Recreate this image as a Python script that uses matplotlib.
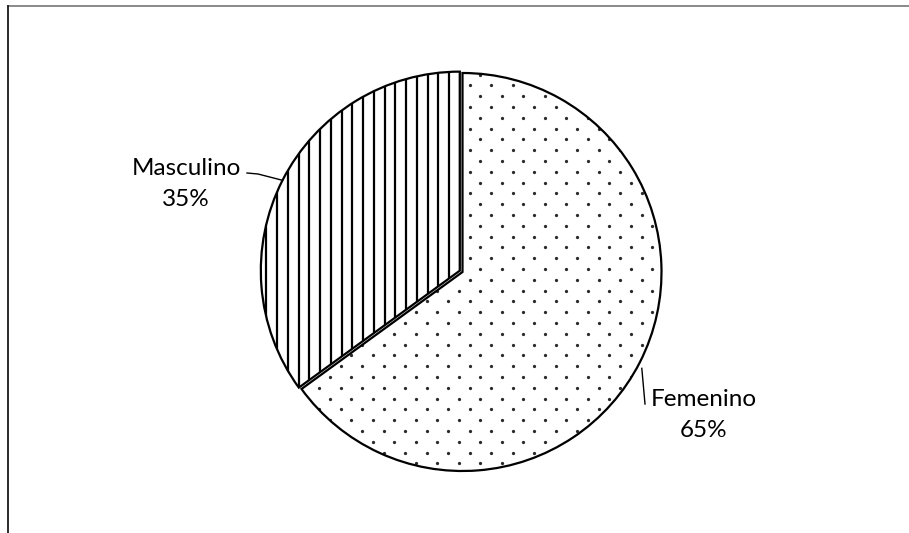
import numpy as np
import matplotlib
matplotlib.use('Agg')
import matplotlib.pyplot as plt
from matplotlib.lines import Line2D

# Data
labels = ['Masculino', 'Femenino']
values = [35, 65]
explode = [3, 0]  # pixels (axes are in pixel units)

# Layout (pixel units, y measured upward)
W, H = 909, 533
center = (462.5, 261)
radius = 199

plt.rcParams['font.family'] = ['Lato', 'DejaVu Sans']

fig = plt.figure(figsize=(W / 100, H / 100), dpi=100, facecolor='white')
ax = fig.add_axes([0, 0, 1, 1])

wedges, _ = ax.pie(values, explode=explode, startangle=90, counterclock=True,
                   center=center, radius=radius,
                   wedgeprops=dict(facecolor='none', edgecolor='black',
                                   linewidth=1.6, zorder=3))
ax.set_xlim(0, W)
ax.set_ylim(0, H)
ax.axis('off')

# Vertical stripes inside Masculino
w_m = wedges[0]
cx, cy = w_m.center
xs = np.arange(449 + 10.75, cx - radius - 11, -10.75)
stripes = ax.vlines(xs, cy - radius, cy + radius, color='black',
                    linewidth=1.6, zorder=2)
stripes.set_clip_path(w_m)

# Dotted texture inside Femenino
w_f = wedges[1]
fx, fy = w_f.center
rows = np.arange(H - 463.3, fy + radius + 11, 10.8)
pts_x, pts_y = [], []
for i, ry in enumerate(rows):
    x0 = 437.3 if i % 2 == 0 else 437.3 - 10.75
    cols = np.arange(x0 - 20 * 21.5, fx + radius + 22, 21.5)
    pts_x.extend(cols)
    pts_y.extend([ry] * len(cols))
dots = ax.scatter(pts_x, pts_y, s=5.5, color='#2a2a2a', linewidths=0, zorder=2)
dots.set_clip_path(w_f)

# Labels with leader lines
total = sum(values)
for w, name, v in zip(wedges, labels, values):
    tm = np.deg2rad((w.theta1 + w.theta2) / 2)
    ex = w.center[0] + w.r * np.cos(tm)
    ey = w.center[1] + w.r * np.sin(tm)
    pct = round(100 * v / total)
    if name == 'Masculino':
        ax.plot([247, 258, ex], [H - 173, H - 174, ey], color='black', lw=1.0, zorder=4)
        ax.text(186, H - 184, f'{name}\n{pct}%', ha='center', va='center',
                fontsize=17.5, linespacing=1.55, color='black')
    else:
        ax.plot([ex + 2, 645], [ey - 6, H - 404], color='black', lw=1.0, zorder=4)
        ax.text(704, H - 415, f'{name}\n{pct}%', ha='center', va='center',
                fontsize=17.5, linespacing=1.55, color='black')

# Chart frame (only top and left edges visible)
fig.add_artist(Line2D([8 / W, 1], [1 - 6 / H, 1 - 6 / H], transform=fig.transFigure,
                      color='#808080', lw=1.3))
fig.add_artist(Line2D([8 / W, 8 / W], [0, 1 - 6 / H], transform=fig.transFigure,
                      color='#1a1a1a', lw=1.3))

fig.savefig('out.png', dpi=100, facecolor='white')
